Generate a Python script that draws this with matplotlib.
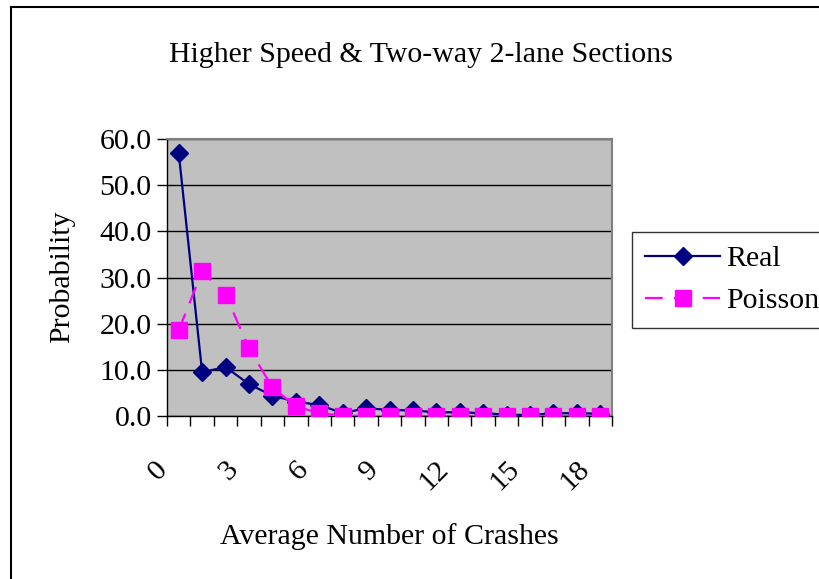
import matplotlib.pyplot as plt
from matplotlib.lines import Line2D
from matplotlib.transforms import ScaledTranslation

plt.rcParams['font.family'] = ['Liberation Serif', 'DejaVu Serif']

# crash counts per section (categories 0..18) and probabilities in %
crashes = list(range(19))
real = [57.0, 9.5, 10.6, 6.9, 4.4, 3.1, 2.4, 0.6, 1.7, 1.3,
        1.2, 0.8, 0.8, 0.6, 0.3, 0.2, 0.6, 0.6, 0.5]
poisson = [18.6, 31.3, 26.3, 14.7, 6.2, 2.1, 0.6, 0.1, 0.0, 0.0,
           0.0, 0.0, 0.0, 0.0, 0.0, 0.0, 0.0, 0.0, 0.0]
tick_labels = ['0', '3', '6', '9', '12', '15', '18']

FS = 21.5
W, H = 819, 579
fig = plt.figure(figsize=(W / 100, H / 100), dpi=100)
ax = fig.add_axes([167 / W, 1 - 416 / H, (612 - 167) / W, (416 - 139) / H])
ax.set_facecolor('#c0c0c0')

ax.plot(crashes, real, color='#000080', lw=1.6, marker='D', ms=9,
        mfc='#000080', mec='#000080', label='Real', zorder=3)
ax.plot(crashes, poisson, color='#ff00ff', lw=1.6, dashes=(8, 5), marker='s',
        ms=12, mfc='#ff00ff', mec='#ff00ff', label='Poisson', zorder=4)

ax.set_xlim(-0.5, 18.5)
ax.set_ylim(0, 60)
ax.set_yticks(range(0, 61, 10))
ax.set_yticklabels([f'{v:.1f}' for v in range(0, 61, 10)], fontsize=FS)
ax.yaxis.grid(True, color='black', lw=1)
ax.set_axisbelow(True)

# tick marks between categories, labels every third category
ax.set_xticks([k - 0.5 for k in range(20)])
ax.set_xticklabels([])
ax.set_xticks([int(t) for t in tick_labels], minor=True)
ax.set_xticklabels(tick_labels, minor=True, rotation=45, fontsize=FS,
                   ha='right', va='top', rotation_mode='anchor')
ax.tick_params(axis='x', which='major', length=7, width=1, direction='out')
ax.tick_params(axis='x', which='minor', length=0, pad=29)
ax.tick_params(axis='y', length=7, width=1, pad=4)
for lbl in ax.get_xticklabels(minor=True):
    lbl.set_transform(lbl.get_transform() + ScaledTranslation(-24 / 100, 0, fig.dpi_scale_trans))

for s in ['top', 'right']:
    ax.spines[s].set_color('#808080')
    ax.spines[s].set_linewidth(1.5)
for s in ['left', 'bottom']:
    ax.spines[s].set_color('black')
    ax.spines[s].set_linewidth(1)

fig.text(421 / W, 1 - 55 / H, 'Higher Speed & Two-way 2-lane Sections',
         ha='center', va='center', fontsize=FS)
fig.text(389 / W, 1 - 537 / H, 'Average Number of Crashes',
         ha='center', va='center', fontsize=FS)
fig.text(62 / W, 1 - 277 / H, 'Probability', ha='center', va='center',
         rotation=90, fontsize=FS)

leg = fig.legend(loc='upper left', bbox_to_anchor=(632 / W, 1 - 232 / H),
                 fontsize=FS, frameon=True, fancybox=False, handlelength=2.5,
                 borderpad=0.45, labelspacing=0.5, handletextpad=0.2,
                 borderaxespad=0)
leg.get_frame().set_edgecolor('black')
leg.get_frame().set_linewidth(1)

# outer chart frame
fig.add_artist(Line2D([11 / W, 11 / W], [0, 1 - 7 / H], color='black', lw=1.5))
fig.add_artist(Line2D([11 / W, 1], [1 - 7 / H, 1 - 7 / H], color='black', lw=1.5))

fig.savefig('out.png', dpi=100)
